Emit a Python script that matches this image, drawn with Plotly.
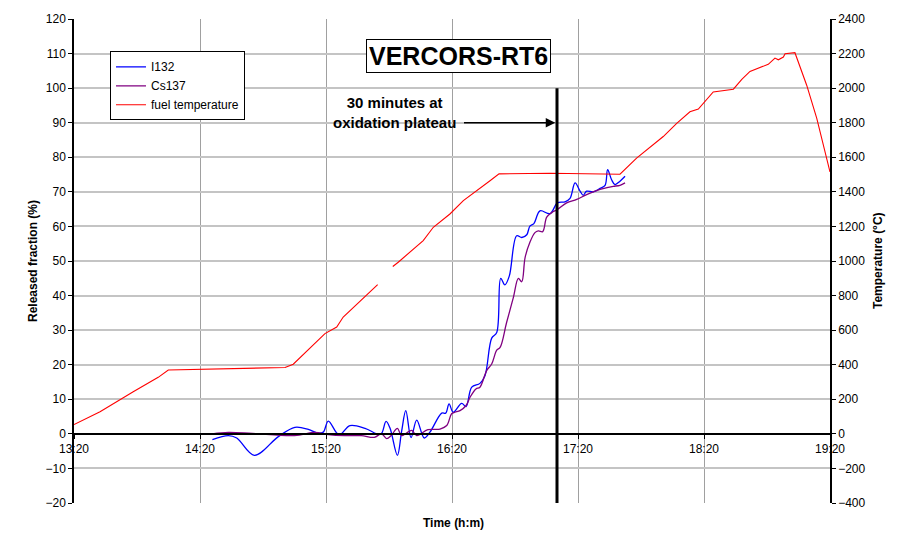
import pandas as pd
import plotly.graph_objects as go

BASE = pd.Timestamp("2000-01-01 13:20:00")

# ---- data (minutes after 13:20) ----
i132_min = [65.9, 73.5, 77.5, 85.9, 97.3, 105.2, 111.6, 116.3, 118.7, 121.1, 126.2, 131.4,
            138.6, 144.9, 146.5, 148.6, 150.5, 154.0, 156.0, 158.0, 160.5, 163.2, 166.8,
            169.5, 175.1, 177.0, 178.6, 180.6, 184.6, 186.7, 189.4, 193.3, 195.7, 198.9,
            201.3, 203.2, 205.2, 207.3, 210.8, 213.2, 215.6, 217.1, 219.0, 221.9, 226.7,
            230.2, 233.8, 236.2, 238.6, 241.0, 242.5, 244.1, 247.3, 250.5, 252.9, 254.1,
            256.0, 257.6, 260.0, 262.4]
i132_val = [-1.7, -0.5, -1.2, -6.2, -0.8, 1.9, 1.3, 0.2, 0.5, 3.7, -0.3, 2.4,
            1.6, -0.1, 0.2, 3.6, 1.6, -6.2, 0.7, 6.7, -1.1, 4.0, -1.2,
            0.5, 6.0, 6.0, 8.7, 6.25, 8.8, 7.9, 13.5, 14.6, 16.8, 27.7,
            29.3, 45.0, 43.1, 45.7, 57.3, 56.8, 57.6, 60.1, 60.8, 64.5, 63.7,
            66.8, 67.1, 68.1, 72.6, 70.2, 69.0, 70.2, 70.0, 71.0, 71.9, 76.4,
            73.5, 72.1, 73.1, 74.5]

cs137_min = [65.9, 73.5, 85.0, 105.0, 114.7, 121.0, 128.9, 136.8, 143.0, 146.5, 148.9,
             151.0, 154.0, 156.0, 160.8, 163.2, 168.5, 174.3, 177.5, 179.8, 181.4, 183.8,
             186.7, 188.6, 191.4, 193.3, 196.5, 198.9, 201.3, 202.9, 206.0, 209.2, 211.6,
             213.2, 214.8, 217.1, 219.5, 221.1, 223.2, 225.1, 227.5, 230.2, 234.6, 239.4,
             244.1, 250.5, 254.4, 256.8, 260.0, 262.4]
cs137_val = [0.0, 0.4, 0.1, -0.5, 0.4, -0.2, -0.5, -0.5, -1.0, 0.0, -1.4,
             -0.5, 1.6, -0.5, 1.0, -0.5, 1.2, 1.4, 2.4, 5.8, 6.25, 6.7,
             8.2, 10.6, 13.0, 13.5, 18.3, 20.2, 24.2, 25.0, 32.2, 39.4, 45.0,
             44.0, 51.0, 55.4, 58.2, 58.7, 58.5, 62.7, 64.0, 64.9, 66.8, 67.8,
             69.2, 70.7, 71.3, 71.6, 71.9, 72.6]

temp_min = [0, 12.4, 28.2, 40.1, 44.9, 60, 100.5, 104.4, 119.5, 125.1, 128.2, 144.6,
            148.0,
            151.8, 154.4, 166.3, 171.1, 179, 185.4, 198.1, 202.4, 226.7, 260, 267.9,
            274.3, 280.6, 287, 293.3, 297.3, 304.4, 314, 318, 321.9, 330.6, 333.8,
            335.4, 337.8, 338.6, 343.3, 348.9, 353.7, 360]
temp_val = [54, 128, 244, 327, 369, 373, 384, 403, 580, 618, 676, 863,
            None,
            968, 993, 1118, 1195, 1272, 1349, 1464, 1504, 1508, 1502, 1595,
            1658, 1720, 1796, 1863, 1879, 1978, 1994, 2051, 2097, 2138, 2174,
            2164, 2180, 2199, 2205, 2017, 1825, 1515]

plateau_end_min = 230      # 17:10 vertical marker
arrow_tail_min = 185       # arrow start
arrow_y = 90
marker_top = 100


def t(mins):
    return [BASE + pd.Timedelta(minutes=m) for m in mins]


FONT = "Liberation Sans, Arial, sans-serif"

fig = go.Figure()
fig.add_trace(go.Scatter(x=t(i132_min), y=i132_val, name="I132", mode="lines",
                         line=dict(color="#0000FF", width=1.3, shape="spline", smoothing=1)))
fig.add_trace(go.Scatter(x=t(cs137_min), y=cs137_val, name="Cs137", mode="lines",
                         line=dict(color="#800080", width=1.3, shape="spline", smoothing=1)))
fig.add_trace(go.Scatter(x=t(temp_min), y=temp_val, name="fuel temperature", mode="lines",
                         yaxis="y2", connectgaps=False,
                         line=dict(color="#FF0000", width=1.1)))

x0 = BASE
x1 = BASE + pd.Timedelta(minutes=360)

fig.update_layout(
    width=904, height=533,
    margin=dict(l=74, r=74, t=17, b=30),
    paper_bgcolor="white", plot_bgcolor="white",
    font=dict(family=FONT, size=12, color="black"),
    showlegend=True,
    legend=dict(x=0.0476, y=0.862, xanchor="left", yanchor="middle",
                bgcolor="white", bordercolor="black", borderwidth=1,
                font=dict(size=12), itemwidth=30, tracegroupgap=0),
    xaxis=dict(type="date", range=[x0, x1], tick0=x0, dtick=3600000,
               tickformat="%H:%M", anchor="free", position=1/7,
               showgrid=True, gridcolor="#a0a0a0", gridwidth=1,
               showline=True, linecolor="black", linewidth=1.5,
               ticks="outside", ticklen=4, tickcolor="black",
               tickfont=dict(size=12), zeroline=False),
    yaxis=dict(range=[-20, 120], dtick=10, showgrid=True, gridcolor="#c4c4c4", gridwidth=1.6,
               showline=True, linecolor="black", linewidth=1.5,
               ticks="outside", ticklen=4, tickcolor="black",
               zeroline=False, tickfont=dict(size=12)),
    yaxis2=dict(range=[-400, 2400], dtick=200, overlaying="y", side="right",
                showgrid=False, showline=True, linecolor="black", linewidth=1.5,
                ticks="outside", ticklen=4, tickcolor="black", zeroline=False,
                tickfont=dict(size=12)),
)

# vertical marker line at end of 30-min oxidation plateau
fig.add_shape(type="line", xref="x", yref="y",
              x0=BASE + pd.Timedelta(minutes=plateau_end_min),
              x1=BASE + pd.Timedelta(minutes=plateau_end_min),
              y0=-20, y1=marker_top, line=dict(color="black", width=3))

# arrow
fig.add_annotation(xref="x", yref="y", axref="x", ayref="y",
                   x=BASE + pd.Timedelta(minutes=plateau_end_min - 0.8), y=arrow_y,
                   ax=BASE + pd.Timedelta(minutes=arrow_tail_min), ay=arrow_y,
                   text="", showarrow=True, arrowhead=2, arrowsize=1.2,
                   arrowwidth=1.6, arrowcolor="black")

C = dict(xanchor="center", yanchor="middle", showarrow=False)

fig.add_annotation(xref="paper", yref="paper", x=0.4246, y=0.8066,
                   text="<b>30 minutes at<br>oxidation plateau</b>",
                   font=dict(size=15, family=FONT), align="center", **C)

# title box
fig.add_annotation(xref="paper", yref="paper", x=0.509, y=0.9239,
                   text="<b>VERCORS-RT6</b>",
                   font=dict(size=25, family=FONT), bgcolor="white",
                   bordercolor="black", borderwidth=1, borderpad=2, **C)

# axis titles
fig.add_annotation(xref="paper", yref="paper", x=-0.0542, y=0.5,
                   text="<b>Released fraction (%)</b>", textangle=-90,
                   font=dict(size=12, family=FONT), **C)
fig.add_annotation(xref="paper", yref="paper", x=1.0635, y=0.5,
                   text="<b>Temperature (°C)</b>", textangle=-90,
                   font=dict(size=12, family=FONT), **C)
fig.add_annotation(xref="paper", yref="paper", x=0.5026, y=-0.0412,
                   text="<b>Time (h:m)</b>",
                   font=dict(size=12, family=FONT), **C)

fig.write_html("out.html", config={"displayModeBar": False},
               post_script="document.body.style.margin='0';document.body.style.padding='0';")
